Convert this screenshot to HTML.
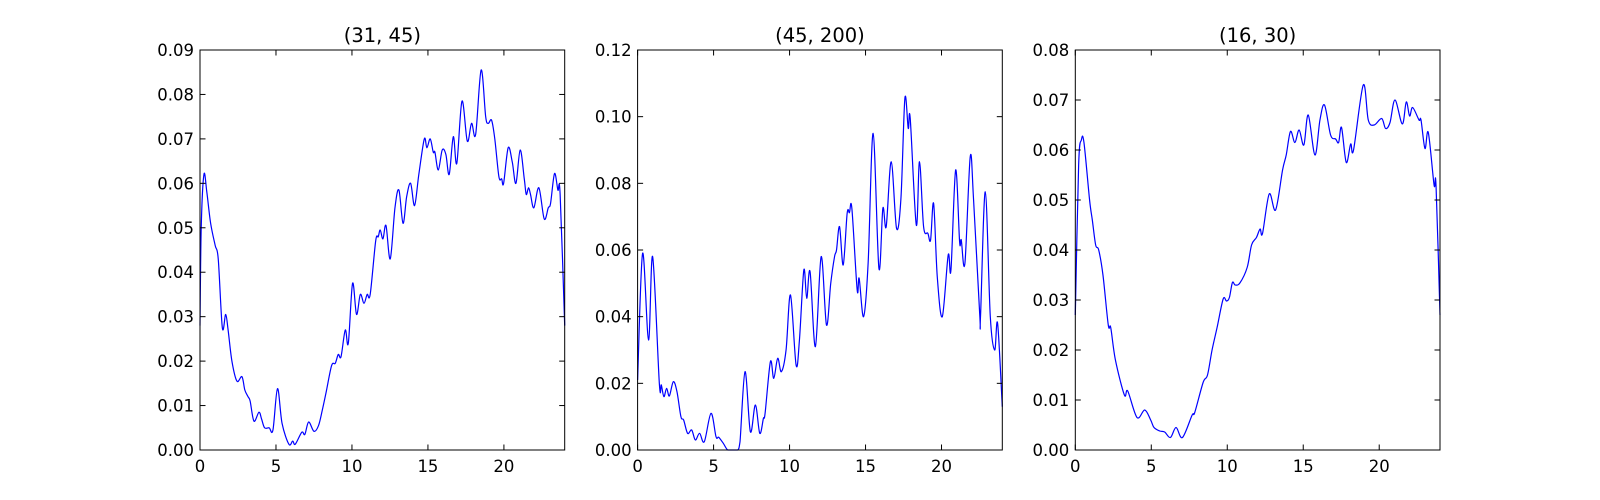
<!DOCTYPE html>
<html><head><meta charset="utf-8"><style>
html,body{margin:0;padding:0;background:#fff;}
svg{display:block;font-family:"DejaVu Sans","Liberation Sans",sans-serif;}
</style></head><body>
<svg id="fig" width="1600" height="500" viewBox="0 0 1600 500"></svg>
<script>
const titles = ["(31, 45)", "(45, 200)", "(16, 30)"];
const yMaxes = [0.09, 0.12, 0.08];
const yStepArr = [0.01, 0.02, 0.01];
const xTickVals = [0, 5, 10, 15, 20];
const s1x = [0,0.08,0.26,0.45,0.7,1.0,1.2,1.47,1.69,1.85,2.1,2.43,2.76,2.95,3.16,3.3,3.55,3.88,4.05,4.25,4.55,4.8,5.1,5.4,5.85,6.1,6.27,6.7,6.9,7.15,7.5,7.8,8.05,8.3,8.66,8.9,9.1,9.28,9.56,9.76,10.04,10.3,10.55,10.79,11.0,11.2,11.56,11.73,11.86,12.04,12.24,12.52,12.83,13.09,13.36,13.6,13.86,14.12,14.4,14.76,14.93,15.15,15.35,15.46,15.68,15.94,16.18,16.4,16.67,16.9,17.24,17.59,17.87,18.14,18.5,18.8,18.97,19.19,19.4,19.67,19.85,19.98,20.28,20.55,20.79,21.07,21.34,21.47,21.62,21.75,21.97,22.3,22.65,22.92,23.07,23.33,23.55,23.7,24.0];
const s1y = [0.028,0.05,0.062,0.058,0.051,0.046,0.043,0.0275,0.0305,0.027,0.02,0.0155,0.0165,0.0135,0.012,0.011,0.0065,0.0085,0.007,0.005,0.005,0.0045,0.0138,0.006,0.0013,0.002,0.0013,0.004,0.0035,0.0063,0.0042,0.0055,0.009,0.013,0.019,0.0195,0.0215,0.021,0.027,0.024,0.0375,0.0305,0.035,0.033,0.035,0.035,0.047,0.048,0.0495,0.0475,0.0505,0.043,0.0545,0.0585,0.051,0.057,0.06,0.055,0.062,0.07,0.068,0.07,0.067,0.067,0.063,0.0675,0.0665,0.062,0.0705,0.0645,0.0785,0.0695,0.0735,0.071,0.0855,0.075,0.0735,0.0742,0.07,0.0615,0.061,0.06,0.068,0.0648,0.06,0.0675,0.061,0.0575,0.059,0.0575,0.0545,0.059,0.052,0.0545,0.0555,0.0622,0.0585,0.0575,0.028];
const s2x = [0,0.33,0.72,0.99,1.43,1.56,1.73,1.91,2.09,2.35,2.59,2.85,3.03,3.29,3.56,3.8,4.08,4.39,4.83,5.16,5.34,5.64,5.93,6.3,6.59,6.74,7.07,7.42,7.75,8.04,8.28,8.39,8.74,8.96,9.22,9.46,9.77,10.06,10.43,10.65,10.94,11.13,11.35,11.7,12.08,12.43,12.71,12.96,13.09,13.29,13.53,13.79,13.94,14.1,14.45,14.58,14.87,15.17,15.5,15.88,16.14,16.36,16.69,17.04,17.33,17.59,17.81,17.94,18.34,18.55,18.82,19.1,19.28,19.48,19.72,20.05,20.44,20.62,20.93,21.19,21.3,21.54,21.89,22.11,22.51,22.57,22.88,23.21,23.5,23.69,24.0];
const s2y = [0.021,0.059,0.033,0.058,0.02,0.0195,0.016,0.0185,0.0162,0.0205,0.0175,0.01,0.009,0.005,0.006,0.003,0.005,0.0025,0.011,0.004,0.0038,0.002,0.0,0.0,0.0,0.0025,0.0235,0.0055,0.0135,0.005,0.0095,0.011,0.0265,0.0215,0.0275,0.0235,0.03,0.0465,0.0255,0.033,0.054,0.0455,0.0535,0.031,0.058,0.0375,0.05,0.058,0.06,0.067,0.0555,0.071,0.0712,0.0725,0.048,0.0515,0.04,0.056,0.095,0.0545,0.0725,0.067,0.0865,0.0665,0.0755,0.1055,0.0965,0.0995,0.0675,0.0865,0.067,0.065,0.063,0.074,0.052,0.04,0.0585,0.054,0.084,0.0625,0.063,0.056,0.088,0.075,0.041,0.0405,0.0775,0.04,0.03,0.038,0.013];
const s3x = [0,0.22,0.4,0.57,0.94,1.12,1.34,1.54,1.82,2.17,2.33,2.64,3.23,3.45,4.06,4.57,4.96,5.18,5.56,5.88,6.26,6.63,7.05,7.69,7.86,8.41,8.7,9.0,9.33,9.73,9.95,10.14,10.34,10.52,10.83,11.31,11.6,11.92,12.16,12.32,12.76,13.18,13.64,13.88,14.16,14.45,14.73,15.04,15.33,15.77,16.1,16.4,16.8,17.13,17.33,17.52,17.83,18.12,18.31,18.95,19.28,19.67,20.16,20.42,20.71,21.04,21.52,21.78,22.0,22.2,22.62,22.75,23.01,23.23,23.61,23.74,24.0];
const s3y = [0.027,0.057,0.062,0.0615,0.05,0.046,0.041,0.04,0.035,0.025,0.0245,0.018,0.011,0.0118,0.0065,0.008,0.006,0.0045,0.0038,0.0036,0.0025,0.0045,0.0025,0.007,0.0075,0.0135,0.015,0.02,0.0245,0.0302,0.0298,0.0305,0.0335,0.033,0.0334,0.0365,0.041,0.0425,0.0442,0.0433,0.0512,0.048,0.056,0.059,0.0637,0.0615,0.064,0.061,0.067,0.059,0.066,0.069,0.063,0.0622,0.0615,0.0645,0.0575,0.0612,0.06,0.073,0.066,0.065,0.0663,0.0643,0.0655,0.07,0.0652,0.0696,0.0668,0.0685,0.066,0.066,0.0603,0.0635,0.053,0.0528,0.027];
const seriesX = [s1x, s2x, s3x];
const seriesY = [s1y, s2y, s3y];

const NS = "http://www.w3.org/2000/svg";
const svg = document.getElementById('fig');
function mk(tag, attrs, parent){const e=document.createElementNS(NS,tag);for(const k in attrs)e.setAttribute(k,attrs[k]);(parent||svg).appendChild(e);return e;}
const axLeft=[200,637.6,1075.3], axW=364.7, axTop=50, axBot=450, xMax=24;

for(let p=0;p<3;p++){
  const L=axLeft[p], R=L+axW;
  const xs=v=>L+v/xMax*axW;
  const ys=v=>axBot-v/yMaxes[p]*(axBot-axTop);
  const g=mk('g',{});
  
  
  // line
  const X=seriesX[p], Y=seriesY[p];
  const pts=X.map((x,i)=>[xs(x),ys(Y[i])]);
  let d='M'+pts[0][0].toFixed(2)+','+pts[0][1].toFixed(2);
  for(let i=0;i<pts.length-1;i++){
    const p0=pts[Math.max(0,i-1)],p1=pts[i],p2=pts[i+1],p3=pts[Math.min(pts.length-1,i+2)];
    const t=1/6;
    let c1x=p1[0]+(p2[0]-p0[0])*t, c1y=p1[1]+(p2[1]-p0[1])*t;
    let c2x=p2[0]-(p3[0]-p1[0])*t, c2y=p2[1]-(p3[1]-p1[1])*t;
    c1y=Math.min(c1y,axBot); c2y=Math.min(c2y,axBot);
    d+=' C'+c1x.toFixed(2)+','+c1y.toFixed(2)+' '+c2x.toFixed(2)+','+c2y.toFixed(2)+' '+p2[0].toFixed(2)+','+p2[1].toFixed(2);
  }
  const line=mk('path',{d:d,fill:'none',stroke:'#0000ff','stroke-width':1.2,'stroke-linejoin':'round'},g);
  
  
  // frame
  const fr=mk('rect',{x:L,y:axTop,width:axW,height:axBot-axTop,fill:'none',stroke:'#000','stroke-width':1},g);
  
  
  // x ticks
  xTickVals.forEach(v=>{
    const x=xs(v);
    mk('line',{x1:x,y1:axBot,x2:x,y2:axBot-5.5,stroke:'#000'},g);
    mk('line',{x1:x,y1:axTop,x2:x,y2:axTop+5.5,stroke:'#000'},g);
    const t=mk('text',{x:x,y:axBot+22,'text-anchor':'middle','font-size':16.5,fill:'#000'},g);
    t.textContent=String(v);
    
    
  });
  // y ticks
  const n=Math.round(yMaxes[p]/yStepArr[p]);
  for(let k=0;k<=n;k++){
    const v=k*yStepArr[p], y=ys(v);
    mk('line',{x1:L,y1:y,x2:L+5.5,y2:y,stroke:'#000'},g);
    mk('line',{x1:R,y1:y,x2:R-5.5,y2:y,stroke:'#000'},g);
    const t=mk('text',{x:L-6,y:y+6,'text-anchor':'end','font-size':16.5,fill:'#000'},g);
    t.textContent=v.toFixed(2);
    
    
  }
  const tt=mk('text',{x:L+axW/2,y:axTop-8,'text-anchor':'middle','font-size':19.5,fill:'#000'},g);
  tt.textContent=titles[p];
  
  
}
</script>
</body></html>
